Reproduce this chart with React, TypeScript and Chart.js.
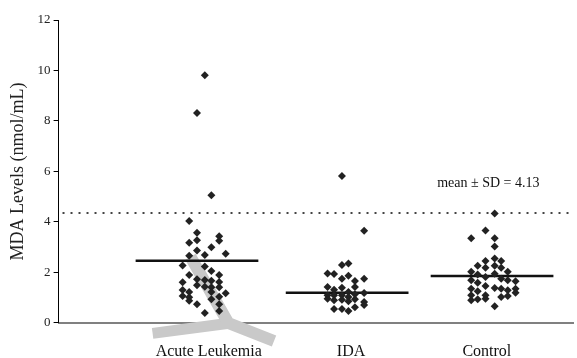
import React, { useEffect, useRef } from "react";
import { Chart, registerables } from "chart.js";

Chart.register(...registerables);

const categories = ["Acute Leukemia", "IDA", "Control"];
const categoryPositions = [1.0, 2.09, 3.13];
const yTicks = [0, 2, 4, 6, 8, 10, 12];

const leukemiaX = [0.97, 0.91, 1.02, 0.85, 0.91, 1.08, 0.85, 0.91, 1.08, 1.02, 0.91, 1.13, 0.97, 0.85, 0.80, 0.97, 0.85, 1.02, 1.08, 0.91, 0.97, 0.80, 1.02, 1.08, 0.91, 0.97, 1.02, 0.80, 0.85, 1.02, 1.08, 1.13, 0.80, 0.85, 1.08, 1.02, 0.85, 0.91, 1.08, 1.08, 0.97];
const leukemiaY = [9.81, 8.31, 5.05, 4.03, 3.57, 3.43, 3.17, 3.27, 3.25, 2.99, 2.87, 2.74, 2.69, 2.66, 2.27, 2.23, 1.89, 2.05, 1.89, 1.73, 1.70, 1.61, 1.67, 1.62, 1.49, 1.43, 1.41, 1.30, 1.22, 1.22, 1.41, 1.17, 1.06, 1.01, 1.03, 0.93, 0.87, 0.74, 0.74, 0.47, 0.39];

const idaX = [2.02, 2.19, 2.02, 2.07, 1.91, 1.96, 2.07, 2.02, 2.12, 2.19, 1.91, 1.96, 2.02, 2.07, 2.12, 1.91, 1.96, 2.02, 2.07, 2.12, 2.19, 1.96, 2.02, 2.07, 2.12, 2.19, 2.19, 1.96, 2.02, 2.07, 2.12, 1.91];
const idaY = [5.82, 3.65, 2.29, 2.35, 1.95, 1.93, 1.86, 1.75, 1.66, 1.75, 1.42, 1.31, 1.39, 1.22, 1.42, 1.09, 1.09, 1.09, 1.02, 1.13, 1.18, 0.89, 0.91, 0.85, 0.93, 0.82, 0.71, 0.55, 0.55, 0.47, 0.62, 0.95];

const controlX = [3.19, 3.12, 3.01, 3.19, 3.19, 3.19, 3.12, 3.24, 3.06, 3.12, 3.19, 3.24, 3.01, 3.06, 3.19, 3.29, 3.01, 3.12, 3.24, 3.06, 3.29, 3.35, 3.01, 3.12, 3.19, 3.24, 3.35, 3.06, 3.29, 3.35, 3.01, 3.12, 3.24, 3.29, 3.06, 3.01, 3.12, 3.19];
const controlY = [4.33, 3.66, 3.35, 3.35, 3.02, 2.55, 2.45, 2.45, 2.26, 2.18, 2.26, 2.18, 2.02, 1.91, 1.94, 2.02, 1.69, 1.82, 1.75, 1.59, 1.69, 1.65, 1.35, 1.46, 1.38, 1.35, 1.35, 1.25, 1.29, 1.19, 1.09, 1.09, 1.02, 1.06, 0.93, 0.89, 0.95, 0.66];

const means = [2.46, 1.19, 1.85];
const meanStart = [0.44, 1.59, 2.70];
const meanEnd = [1.38, 2.53, 3.64];

const thresholdValue = 4.35;
const thresholdSpan = [-0.12, 3.79];
const thresholdLabel = "mean \u00b1 SD = 4.13";
const thresholdLabelAt = [2.75, 5.54];

// gray overlay stroke seen in the reference
const overlayAX = [0.86, 1.15, 1.50];
const overlayAY = [2.62, -0.01, -0.72];
const overlayBX = [1.17, 0.57];
const overlayBY = [-0.01, -0.42];

const FONT = '"Liberation Serif", "Times New Roman", serif';

const pts = (xs: number[], ys: number[]) => xs.map((x, i) => ({ x, y: ys[i] }));

const annotationPlugin = {
  id: "thresholdText",
  afterDatasetsDraw(chart: any) {
    const { ctx, scales } = chart;
    ctx.save();
    ctx.font = `14px ${FONT}`;
    ctx.fillStyle = "#111";
    ctx.textBaseline = "middle";
    ctx.textAlign = "left";
    ctx.fillText(
      thresholdLabel,
      scales.x.getPixelForValue(thresholdLabelAt[0]),
      scales.y.getPixelForValue(thresholdLabelAt[1])
    );
    ctx.restore();
  },
};

export default function App() {
  const ref = useRef<HTMLCanvasElement | null>(null);

  useEffect(() => {
    if (!ref.current) return;
    const pointStyleOpts = {
      type: "scatter" as const,
      pointStyle: "rectRot",
      pointRadius: 4,
      pointBackgroundColor: "#222",
      pointBorderWidth: 0,
      showLine: false,
      order: 0,
    };
    const meanDatasets = means.map((m, i) => ({
      type: "scatter" as const,
      data: [
        { x: meanStart[i], y: m },
        { x: meanEnd[i], y: m },
      ],
      showLine: true,
      borderColor: "#111",
      borderWidth: 2.5,
      pointRadius: 0,
      order: 1,
    }));
    const chart = new Chart(ref.current, {
      type: "scatter",
      data: {
        datasets: [
          {
            data: pts(overlayAX, overlayAY),
            showLine: true,
            borderColor: "#c9c9c9",
            borderWidth: 12,
            pointRadius: 0,
            clip: false,
            order: 10,
          } as any,
          {
            data: pts(overlayBX, overlayBY),
            showLine: true,
            borderColor: "#c9c9c9",
            borderWidth: 11,
            pointRadius: 0,
            clip: false,
            order: 10,
          } as any,
          {
            data: [
              { x: thresholdSpan[0], y: thresholdValue },
              { x: thresholdSpan[1], y: thresholdValue },
            ],
            showLine: true,
            borderColor: "#444",
            borderWidth: 2,
            borderDash: [2, 6],
            pointRadius: 0,
            order: 2,
          },
          ...meanDatasets,
          { ...pointStyleOpts, data: pts(leukemiaX, leukemiaY) } as any,
          { ...pointStyleOpts, data: pts(idaX, idaY) } as any,
          { ...pointStyleOpts, data: pts(controlX, controlY) } as any,
        ],
      },
      options: {
        animation: false,
        responsive: false,
        devicePixelRatio: 1,
        layout: { padding: { left: 7, right: 4, top: 20, bottom: -22 } },
        plugins: { legend: { display: false }, tooltip: { enabled: false } },
        scales: {
          x: {
            type: "linear",
            min: -0.15,
            max: 3.79,
            afterBuildTicks: (s: any) => {
              s.ticks = categoryPositions.map((v) => ({ value: v }));
            },
            ticks: {
              callback: (v: any) => categories[categoryPositions.indexOf(Number(v))] ?? "",
              font: { family: FONT, size: 16 },
              color: "#111",
              padding: 19,
              autoSkip: false,
              maxRotation: 0,
            },
            grid: { display: false, drawTicks: false },
            border: { color: "#808080", width: 2 },
          },
          y: {
            min: 0,
            max: 12,
            afterBuildTicks: (s: any) => {
              s.ticks = yTicks.map((v) => ({ value: v }));
            },
            ticks: {
              font: { family: FONT, size: 13 },
              color: "#222",
              padding: 3,
            },
            grid: { drawOnChartArea: false, tickLength: 5, color: "#000", lineWidth: 1 },
            border: { color: "#000", width: 1 },
            title: {
              display: true,
              text: "MDA Levels (nmol/mL)",
              font: { family: FONT, size: 18 },
              color: "#222",
              padding: { top: 0, bottom: 6 },
            },
          },
        },
      },
      plugins: [annotationPlugin],
    });
    return () => chart.destroy();
  }, []);

  return (
    <div style={{ position: "absolute", left: 0, top: 0, width: 577, height: 358, background: "#fff" }}>
      <canvas ref={ref} width={577} height={358} />
    </div>
  );
}
